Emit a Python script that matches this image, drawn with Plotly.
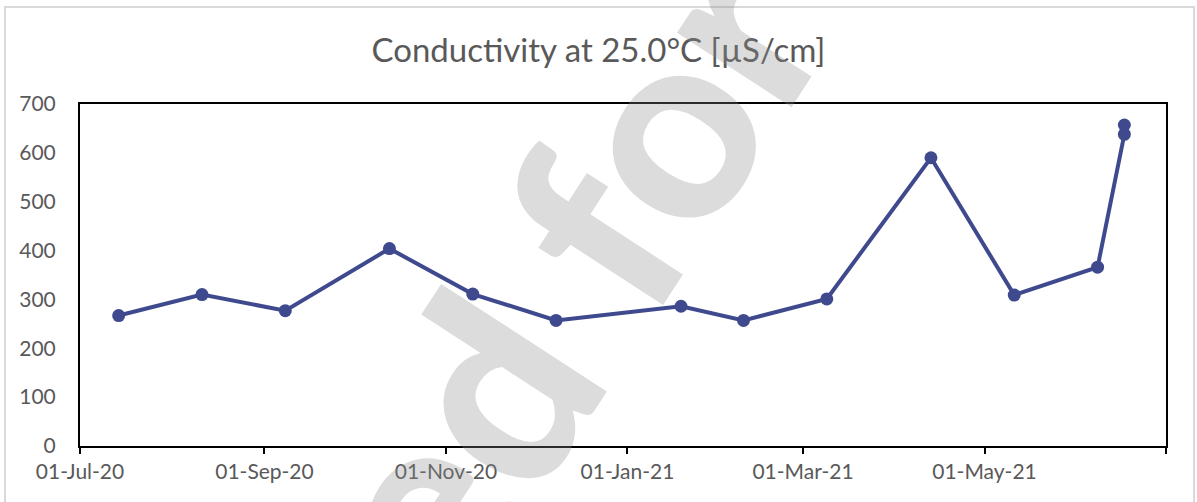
import plotly.graph_objects as go

# Data
sample_dates = [
    "2020-07-14", "2020-08-11", "2020-09-08", "2020-10-13", "2020-11-10",
    "2020-12-08", "2021-01-19", "2021-02-09", "2021-03-09", "2021-04-13",
    "2021-05-11", "2021-06-08", "2021-06-17", "2021-06-17",
]
conductivity = [267, 310, 277, 404, 311, 257, 286, 257, 301, 590, 309, 366, 638, 657]

x_tick_vals = ["2020-07-01", "2020-09-01", "2020-11-01", "2021-01-01",
               "2021-03-01", "2021-05-01", "2021-07-01"]
x_tick_text = ["01-Jul-20", "01-Sep-20", "01-Nov-20", "01-Jan-21",
               "01-Mar-21", "01-May-21", ""]
y_tick_vals = [0, 100, 200, 300, 400, 500, 600, 700]

title_text = "Conductivity at 25.0°C [µS/cm]"
watermark_text = "used for"

W, H = 1197, 502
L, R, T, B = 80, 31, 104, 56
pw, ph = W - L - R, H - T - B

def px_x(p):
    return (p - L) / pw

def px_y(p):
    return (H - B - p) / ph

fig = go.Figure()
fig.add_trace(go.Scatter(
    x=sample_dates, y=conductivity, mode="lines+markers",
    line=dict(color="#3F4A8E", width=4),
    marker=dict(color="#3F4A8E", size=13),
    showlegend=False, hoverinfo="skip",
))

font_family = "Lato, 'Open Sans', sans-serif"

fig.update_layout(
    width=W, height=H,
    margin=dict(l=L, r=R, t=T, b=B, autoexpand=False),
    paper_bgcolor="white", plot_bgcolor="white",
    title=dict(text=title_text, x=0.5, xref="container", xanchor="center",
               y=1 - 50 / H, yanchor="middle", yref="container",
               automargin=False,
               font=dict(family=font_family, size=33, color="#595959")),
    font=dict(family=font_family, color="#595959"),
    xaxis=dict(
        type="date", range=["2020-07-01", "2021-07-01"],
        tickmode="array", tickvals=x_tick_vals, ticktext=x_tick_text,
        showgrid=False, zeroline=False, automargin=False,
        showline=True, linecolor="black", linewidth=2, mirror=True,
        ticks="outside", ticklen=6, tickwidth=2, tickcolor="black",
        tickfont=dict(family=font_family, size=21, color="#595959"),
    ),
    yaxis=dict(
        range=[0, 700], tickmode="array", tickvals=y_tick_vals,
        showgrid=False, zeroline=False, automargin=False,
        showline=True, linecolor="black", linewidth=2, mirror=True,
        ticks="", ticklabelstandoff=18,
        tickfont=dict(family=font_family, size=21, color="#595959"),
    ),
    shapes=[dict(
        type="rect", xref="paper", yref="paper",
        x0=px_x(5), x1=px_x(1194), y0=px_y(520), y1=px_y(7),
        line=dict(color="#d9d9d9", width=2), fillcolor="rgba(0,0,0,0)",
        layer="below",
    )],
    annotations=[dict(
        text=watermark_text, xref="paper", yref="paper",
        x=px_x(487), y=px_y(387), xanchor="center", yanchor="middle",
        showarrow=False, textangle=-57,
        font=dict(family="Lato, sans-serif", size=265, weight=900,
                  color="rgba(140,140,140,0.3)"),
    )],
)

fig.write_html("out.html", config={"displayModeBar": False},
               post_script="document.body.style.margin='0';document.body.style.overflow='hidden';")
